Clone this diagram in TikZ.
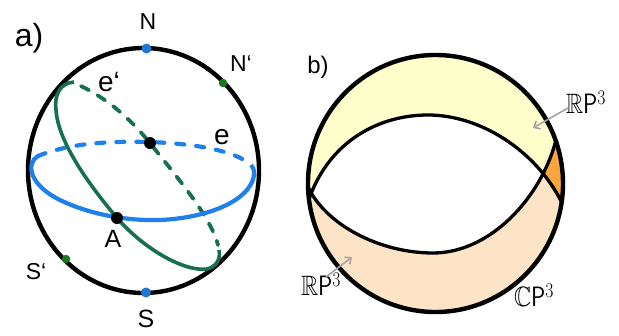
\documentclass[tikz,border=0pt]{standalone}
\usepackage{fontspec}
\usepackage{amssymb}
\setmainfont{Liberation Sans}
\usetikzlibrary{arrows.meta}
\definecolor{sphblue}{RGB}{30,128,236}
\definecolor{dotblue}{RGB}{30,118,215}
\definecolor{sphgreen}{RGB}{22,112,80}
\definecolor{dotgreen}{RGB}{25,120,30}
\definecolor{yfill}{RGB}{255,255,204}
\definecolor{pfill}{RGB}{253,228,198}
\definecolor{ofill}{RGB}{249,166,60}
\definecolor{arrgray}{RGB}{165,165,165}
\tikzset{
  outline/.style={line width=4.4pt, black},
  bluefront/.style={line width=4.2pt, sphblue},
  blueback/.style={line width=4.2pt, sphblue, line cap=round, dash pattern=on 8pt off 12pt},
  greenfront/.style={line width=3.6pt, sphgreen},
  greenback/.style={line width=3.8pt, sphgreen, line cap=round, dash pattern=on 9pt off 10pt},
  bigdot/.style={circle, fill=black, inner sep=0pt, minimum size=12pt},
  poleblue/.style={circle, fill=dotblue, inner sep=0pt, minimum size=10pt},
  polegreen/.style={circle, fill=dotgreen, inner sep=0pt, minimum size=8.5pt},
  lbl/.style={inner sep=0pt, font=\fontsize{23}{23}\selectfont},
  elbl/.style={inner sep=0pt, font=\fontsize{28}{28}\selectfont},
  panel/.style={inner sep=0pt},
  arcline/.style={line width=3.3pt, black},
  hand/.style={inner sep=0pt, font=\fontsize{28}{28}\selectfont, xscale=0.85, transform shape},
  grayarrow/.style={line width=1.6pt, arrgray, -{Straight Barb[length=5pt,width=9pt]}}
}
\begin{document}
\begin{tikzpicture}[x=1pt,y=-1pt]
\useasboundingbox (0,0) rectangle (619,335);
% ---------------- panel a ----------------
\node[panel, font=\fontsize{32}{32}\selectfont] (pa) at (29,38) {a)};
% blue back (dashed)
\draw[blueback] (38,156) .. controls (70,143) and (110,141) .. (147,142) .. controls (190,143) and (235,150) .. (251,165);
% green back (dashed)
\draw[greenback] (81,86) .. controls (115,103) and (135,125) .. (150,143) .. controls (175,175) and (210,215) .. (218,245);
% sphere outline
\draw[outline] (143.5,170.5) ellipse [x radius=115.5, y radius=122.5];
% blue front
\draw[bluefront] (38,156) .. controls (26,163) and (28,185) .. (62,201) .. controls (90,214) and (125,221) .. (160,220) .. controls (205,218) and (243,203) .. (252,182) .. controls (255,175) and (255,169) .. (251,165);
% green front
\draw[greenfront] (74,82) .. controls (60,83) and (54,95) .. (56,110) .. controls (58,140) and (85,180) .. (117,218) .. controls (145,250) and (185,272) .. (207,269) .. controls (216,267) and (221,259) .. (219,250);
% dots
\node[bigdot] (O) at (150,143) {};
\node[bigdot] (A) at (117,218) {};
\node[poleblue] (N) at (146.5,48.5) {};
\node[poleblue] (S) at (146,292.5) {};
\node[polegreen] (Np) at (223,83) {};
\node[polegreen] (Sp) at (66,259) {};
% labels
\node[lbl] (labN) at (148,22) {N};
\node[lbl] (labNp) at (241,64) {N‘};
\node[elbl] (labep) at (109,82) {e‘};
\node[elbl] (labe) at (222,137) {e};
\node[lbl, font=\fontsize{25}{25}\selectfont] (labA) at (113,239) {A};
\node[lbl] (labSp) at (36,272) {S‘};
\node[lbl, font=\fontsize{25}{25}\selectfont] (labS) at (146,319) {S};
% ---------------- panel b ----------------
\node[panel, font=\fontsize{24}{24}\selectfont] (pb) at (318,67) {b)};
\begin{scope}
  \clip (435.5,183.5) ellipse [x radius=127.5, y radius=128.5];
  % yellow upper region
  \fill[yfill] (309,199) .. controls (330,140) and (380,115) .. (428,115) .. controls (480,115) and (535,150) .. (561,201) -- (600,201) -- (600,40) -- (290,40) -- (290,199) -- cycle;
  % peach lower region
  \fill[pfill] (307,185) .. controls (325,225) and (380,253) .. (433,253) .. controls (490,253) and (541,198) .. (556,140) -- (600,140) -- (600,330) -- (290,330) -- (290,185) -- cycle;
  % orange overlap
  \begin{scope}
    \clip (309,199) .. controls (330,140) and (380,115) .. (428,115) .. controls (480,115) and (535,150) .. (561,201) -- (600,201) -- (600,40) -- (290,40) -- (290,199) -- cycle;
    \fill[ofill] (307,185) .. controls (325,225) and (380,253) .. (433,253) .. controls (490,253) and (541,198) .. (556,140) -- (600,140) -- (600,330) -- (290,330) -- (290,185) -- cycle;
  \end{scope}
  % inner arcs
  \draw[arcline] (309,199) .. controls (330,140) and (380,115) .. (428,115) .. controls (480,115) and (535,150) .. (561,201);
  \draw[arcline] (307,185) .. controls (325,225) and (380,253) .. (433,253) .. controls (490,253) and (541,198) .. (556,140);
\end{scope}
\draw[outline] (435.5,183.5) ellipse [x radius=127.5, y radius=128.5];
% labels panel b
\node[hand] (rp1) at (586,102) {$\mathbb{R}\mathsf{P}^{3}$};
\node[hand] (rp2) at (321,284) {$\mathbb{R}\mathsf{P}^{3}$};
\node[hand] (cp) at (534,295) {$\mathbb{C}\mathsf{P}^{3}$};
\coordinate (t1) at (533,128);
\coordinate (t2) at (352,257);
\coordinate (s1) at (568,108);
\coordinate (s2) at (326,277);
\draw[grayarrow] (s1) -- (t1);
\draw[grayarrow] (s2) -- (t2);
\end{tikzpicture}
\end{document}
